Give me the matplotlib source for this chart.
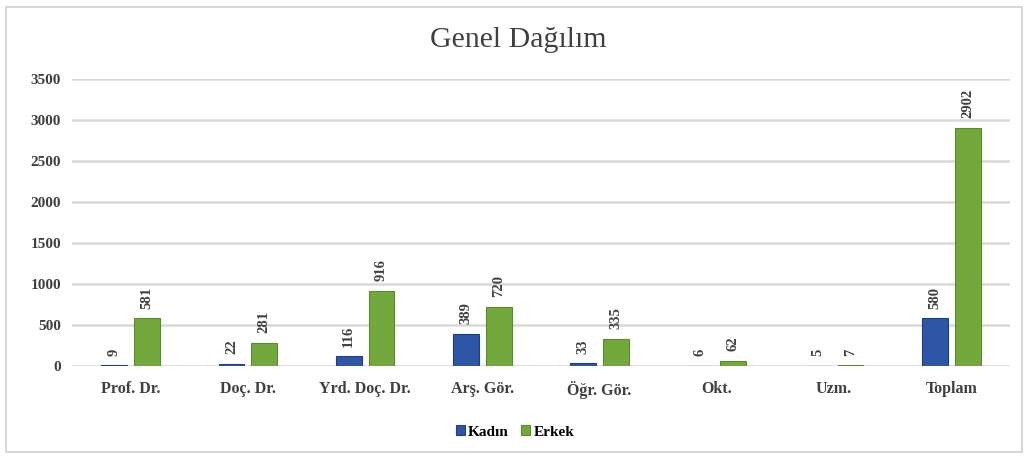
import matplotlib
matplotlib.use("Agg")
import matplotlib.pyplot as plt
import numpy as np
from matplotlib.patches import Rectangle

categories = ["Prof. Dr.", "Doç. Dr.", "Yrd. Doç. Dr.", "Arş. Gör.", "Öğr. Gör.", "Okt.", "Uzm.", "Toplam"]
kadin = [9, 22, 116, 389, 33, 6, 5, 580]
erkek = [581, 281, 916, 720, 335, 62, 7, 2902]
yticks = [0, 500, 1000, 1500, 2000, 2500, 3000, 3500]

plt.rcParams['font.family'] = ['Liberation Serif', 'DejaVu Serif']

fig = plt.figure(figsize=(10.30, 4.59), dpi=100)
fig.patches.append(Rectangle((6/1030, 7/459), 1016/1030, 445/459, transform=fig.transFigure,
                             fill=False, edgecolor='#d0d0d0', linewidth=1.2))
ax = fig.add_axes([72/1030, 1-366/459, 938/1030, 287/459])

x = np.arange(len(categories))
w = 0.22
off = 0.14
blue = '#2E56A6'
green = '#72A83C'
b1 = ax.bar(x - off, kadin, w, color=blue, edgecolor='#1F3F80', linewidth=0.8, label='Kadın', zorder=3)
b2 = ax.bar(x + off, erkek, w, color=green, edgecolor='#5A8A2A', linewidth=0.8, label='Erkek', zorder=3)

for bars, vals in ((b1, kadin), (b2, erkek)):
    for r, v in zip(bars, vals):
        ax.annotate(str(v), (r.get_x() + r.get_width()/2, r.get_height()),
                    xytext=(0, 7), textcoords='offset points', rotation=90,
                    ha='center', va='bottom', fontsize=10.5, fontweight='bold',
                    color='#404040', clip_on=False)

ax.set_xlim(-0.5, len(categories) - 0.5)
ax.set_ylim(0, 3500)
ax.set_yticks(yticks)
ax.set_yticklabels([str(t) for t in yticks], fontsize=11, fontweight='bold', color='#404040')
ax.set_xticks(x)
ax.set_xticklabels(categories, fontsize=11.5, fontweight='bold', color='#404040')
ax.tick_params(axis='y', length=0, pad=8)
ax.tick_params(axis='x', length=0, pad=11)
ax.grid(axis='y', color='#d9d9d9', linewidth=1.8, zorder=0)
for s in ax.spines.values():
    s.set_visible(False)
ax.set_axisbelow(True)

fig.text(518/1030, 1-40/459, 'Genel Dağılım', ha='center', va='center', fontsize=21.5, color='#404040')
fig.legend(handles=[b1, b2], labels=['Kadın', 'Erkek'], loc='center', bbox_to_anchor=(515/1030, 1-432/459),
           ncol=2, frameon=False, handlelength=0.6, handleheight=0.6,
           handletextpad=0.2, columnspacing=0.8, prop={'weight': 'bold', 'size': 11})

fig.savefig('out.png', dpi=100, facecolor='white')
